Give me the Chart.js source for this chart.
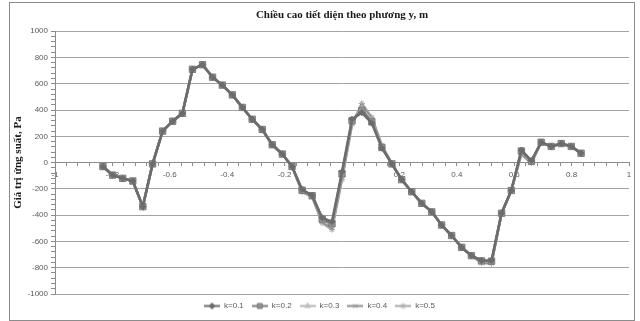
<!DOCTYPE html>
<html>
<head>
<meta charset="utf-8">
<script src="https://cdn.jsdelivr.net/npm/chart.js@4.4.1/dist/chart.umd.min.js"></script>
<style>
  html, body { margin: 0; padding: 0; background: #fff; }
  #wrap { width: 640px; height: 321px; }
</style>
</head>
<body>
<div id="wrap"><canvas id="chart" width="640" height="321"></canvas></div>
<script>
// y position across the section, m
const xValues = [-0.833, -0.799, -0.764, -0.729, -0.694, -0.660, -0.625, -0.590, -0.556, -0.521,
  -0.486, -0.451, -0.417, -0.382, -0.347, -0.313, -0.278, -0.243, -0.208, -0.174,
  -0.139, -0.104, -0.069, -0.035, 0, 0.035, 0.069, 0.104, 0.139, 0.174,
  0.208, 0.243, 0.278, 0.313, 0.347, 0.382, 0.417, 0.451, 0.486, 0.521,
  0.556, 0.590, 0.625, 0.660, 0.694, 0.729, 0.764, 0.799, 0.833];

// stress, Pa
const k01 = [-30, -95, -120, -140, -335, -10, 240, 315, 375, 710,
  745, 650, 590, 515, 420, 330, 252, 136, 65, -30,
  -205, -250, -420, -450, -70, 330, 380, 300, 110, -10,
  -130, -222, -310, -375, -475, -555, -645, -708, -745, -745,
  -385, -212, 95, 15, 155, 123, 145, 123, 71];
const k02 = [-30, -95, -120, -140, -335, -10, 240, 315, 375, 710,
  745, 650, 590, 515, 420, 330, 252, 136, 65, -30,
  -210, -252, -430, -465, -85, 320, 398, 310, 115, -10,
  -130, -222, -310, -375, -475, -555, -645, -708, -748, -750,
  -385, -212, 88, 10, 155, 123, 145, 123, 71];
const k03 = [-30, -95, -120, -140, -335, -10, 240, 315, 375, 710,
  745, 650, 590, 515, 420, 330, 252, 136, 65, -30,
  -215, -255, -440, -480, -100, 310, 415, 320, 120, -10,
  -130, -222, -310, -375, -475, -555, -645, -708, -752, -755,
  -385, -212, 80, 5, 155, 123, 145, 123, 71];
const k04 = [-30, -95, -120, -140, -335, -10, 240, 315, 375, 710,
  745, 650, 590, 515, 420, 330, 252, 136, 65, -30,
  -220, -258, -450, -495, -115, 300, 432, 333, 126, -10,
  -130, -222, -310, -375, -475, -555, -645, -708, -758, -762,
  -385, -212, 72, 0, 155, 123, 145, 123, 71];
const k05 = [-30, -95, -120, -140, -335, -10, 240, 315, 375, 710,
  745, 650, 590, 515, 420, 330, 252, 136, 65, -30,
  -225, -260, -460, -510, -130, 290, 450, 345, 132, -10,
  -130, -222, -310, -375, -475, -555, -645, -708, -765, -770,
  -385, -212, 62, -5, 155, 123, 145, 123, 71];

const seriesNames = ['k=0.1', 'k=0.2', 'k=0.3', 'k=0.4', 'k=0.5'];
const seriesValues = [k01, k02, k03, k04, k05];

const xTickLabels = [-1, -0.8, -0.6, -0.4, -0.2, 0, 0.2, 0.4, 0.6, 0.8, 1];
const yTickLabels = [-1000, -800, -600, -400, -200, 0, 200, 400, 600, 800, 1000];

const styles = [
  {line: '#6c6c6c', fill: '#6c6c6c', point: 'rectRot', r: 3},
  {line: '#7c7c7c', fill: '#939393', point: 'rect', r: 4.5},
  {line: '#b9b9b9', fill: '#c4c4c4', point: 'triangle', r: 3},
  {line: '#8e8e8e', fill: '#8e8e8e', point: 'crossRot', r: 3},
  {line: '#aaaaaa', fill: '#aaaaaa', point: 'star', r: 3}
];

const tickFont = {family: 'Liberation Sans', size: 8};
const tickColor = '#5a5a5a';
const axisColor = '#8c8c8c';

// small line+marker picture for each legend entry
function legendSymbol(s) {
  const c = document.createElement('canvas');
  c.width = 16; c.height = 9;
  const g = c.getContext('2d');
  g.strokeStyle = s.line; g.lineWidth = 2;
  g.beginPath(); g.moveTo(0, 4.5); g.lineTo(16, 4.5); g.stroke();
  g.fillStyle = s.fill; g.strokeStyle = s.line; g.lineWidth = 1;
  Chart.helpers.drawPoint(g, {pointStyle: s.point, radius: Math.min(s.r, 3.5), borderWidth: 1, rotation: 0}, 8, 4.5);
  return c;
}
const symbols = styles.map(legendSymbol);

const frame = {
  id: 'frame',
  beforeDraw(chart) {
    const ctx = chart.ctx;
    ctx.save();
    ctx.fillStyle = '#fff';
    ctx.fillRect(0, 0, chart.width, chart.height);
    ctx.strokeStyle = '#8c8c8c';
    ctx.lineWidth = 1;
    ctx.strokeRect(9.5, 2.5, 625, 318);
    ctx.restore();
  }
};

const datasets = seriesNames.map((name, i) => ({
  label: name,
  data: xValues.map((x, j) => ({x: x, y: seriesValues[i][j]})),
  borderColor: styles[i].line,
  backgroundColor: styles[i].fill,
  pointBackgroundColor: styles[i].fill,
  pointBorderColor: styles[i].line,
  pointStyle: styles[i].point,
  pointRadius: styles[i].r,
  pointBorderWidth: 1,
  borderWidth: 2.5,
  tension: 0
}));

new Chart(document.getElementById('chart'), {
  type: 'line',
  data: {datasets: datasets},
  plugins: [frame],
  options: {
    responsive: false,
    animation: false,
    layout: {padding: {left: 10, right: 11, top: 0, bottom: 1}},
    plugins: {
      title: {
        display: true,
        fullSize: false,
        text: 'Chiều cao tiết diện theo phương y, m',
        font: {family: 'Liberation Serif', size: 11, weight: 'bold'},
        color: '#1a1a1a',
        padding: {top: 9, bottom: 9}
      },
      legend: {
        position: 'bottom',
        labels: {
          usePointStyle: true,
          pointStyleWidth: 16,
          padding: 8,
          font: tickFont,
          color: tickColor,
          generateLabels: chart => Chart.defaults.plugins.legend.labels.generateLabels(chart)
            .map((item, i) => ({...item, pointStyle: symbols[i]}))
        }
      },
      tooltip: {enabled: false}
    },
    scales: {
      x: {
        type: 'linear',
        min: -1, max: 1,
        position: {y: 0},
        afterBuildTicks: s => {
          const t = [];
          for (let i = 0; i < xTickLabels.length - 1; i++) {
            for (let m = 0; m < 5; m++) t.push({value: +(xTickLabels[i] + m * 0.04).toFixed(2)});
          }
          t.push({value: 1});
          s.ticks = t;
        },
        ticks: {
          autoSkip: false, maxRotation: 0, padding: 4,
          font: tickFont, color: tickColor,
          callback: v => xTickLabels.includes(v) ? String(v) : ''
        },
        grid: {drawOnChartArea: false, tickLength: 3, tickColor: axisColor},
        border: {color: axisColor}
      },
      y: {
        min: -1000, max: 1000,
        afterBuildTicks: s => {
          const t = [];
          for (let i = 0; i < yTickLabels.length - 1; i++) {
            for (let m = 0; m < 5; m++) t.push({value: yTickLabels[i] + m * 40});
          }
          t.push({value: 1000});
          s.ticks = t;
        },
        afterFit: s => { s.width = 45; },
        ticks: {
          autoSkip: false, padding: 3,
          font: tickFont, color: tickColor,
          callback: v => yTickLabels.includes(v) ? String(v) : ''
        },
        grid: {
          color: c => yTickLabels.includes(c.tick.value) ? '#a3a3a3' : 'rgba(0,0,0,0)',
          tickColor: axisColor,
          tickLength: 4
        },
        border: {color: axisColor},
        title: {
          display: true,
          text: 'Giá trị ứng suất, Pa',
          font: {family: 'Liberation Serif', size: 11, weight: 'bold'},
          color: '#1a1a1a',
          padding: {top: 2, bottom: 0}
        }
      }
    }
  }
});
</script>
</body>
</html>
